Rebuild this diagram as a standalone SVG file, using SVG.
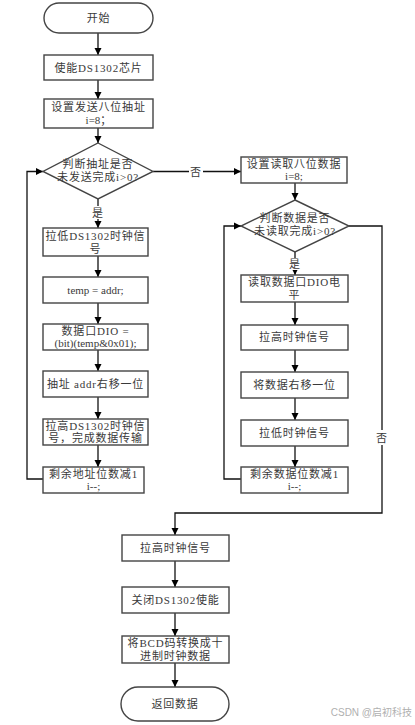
<svg xmlns="http://www.w3.org/2000/svg" width="415" height="725" viewBox="0 0 415 725">
<defs>
<marker id="ah" markerUnits="userSpaceOnUse" markerWidth="8" markerHeight="8" refX="7" refY="4" orient="auto">
<path d="M0,0.5 L7,4 L0,7.5 Z" fill="#000"/>
</marker>
<style>
.n{fill:#fff;stroke:#444;stroke-width:1.4}
.t{font-family:"Liberation Serif","Noto Sans CJK SC",serif;font-size:11px;fill:#3a3a3a;text-anchor:middle;letter-spacing:0.8px}
.l{letter-spacing:0}
.c{fill:none;stroke:#111;stroke-width:1.3}
.lb{fill:#fff;stroke:none}
</style>
</defs>
<rect width="415" height="725" fill="#fff"/>
<g id="connectors">
<path class="c" d="M98,33 V55" marker-end="url(#ah)"/>
<path class="c" d="M98,80 V99" marker-end="url(#ah)"/>
<path class="c" d="M98,128 V143" marker-end="url(#ah)"/>
<path class="c" d="M153,171.5 H241" marker-end="url(#ah)"/>
<path class="c" d="M98,199 V228" marker-end="url(#ah)"/>
<path class="c" d="M98,256 V277" marker-end="url(#ah)"/>
<path class="c" d="M98,303 V324" marker-end="url(#ah)"/>
<path class="c" d="M98,350 V371" marker-end="url(#ah)"/>
<path class="c" d="M98,397 V419" marker-end="url(#ah)"/>
<path class="c" d="M98,445 V467" marker-end="url(#ah)"/>
<path class="c" d="M43,479 H27 V171.5 H43" marker-end="url(#ah)"/>
<path class="c" d="M295,183 V200" marker-end="url(#ah)"/>
<path class="c" d="M295,252 V275" marker-end="url(#ah)"/>
<path class="c" d="M295,302 V325" marker-end="url(#ah)"/>
<path class="c" d="M295,350 V372" marker-end="url(#ah)"/>
<path class="c" d="M295,398 V420" marker-end="url(#ah)"/>
<path class="c" d="M295,446 V467" marker-end="url(#ah)"/>
<path class="c" d="M241,479 H224 V226 H241" marker-end="url(#ah)"/>
<path class="c" d="M349,226 H382 V513 H175 V535" marker-end="url(#ah)"/>
<path class="c" d="M175,561 V587" marker-end="url(#ah)"/>
<path class="c" d="M175,613 V636" marker-end="url(#ah)"/>
<path class="c" d="M175,663 V687" marker-end="url(#ah)"/>
<rect class="lb" x="189" y="164" width="14" height="14"/>
<text class="t" x="196" y="175.5">否</text>
<rect class="lb" x="91" y="206" width="14" height="13"/>
<text class="t" x="98" y="216.5">是</text>
<rect class="lb" x="288" y="258" width="14" height="12"/>
<text class="t" x="295" y="268">是</text>
<rect class="lb" x="375" y="430" width="14" height="15"/>
<text class="t" x="382" y="441.5">否</text>
</g>
<g id="start"><rect class="n" x="44" y="3" width="109" height="30" rx="15"/><text class="t" x="98.5" y="22">开始</text></g>
<g id="enable"><rect class="n" x="44" y="55" width="109" height="25"/><text class="t" x="98.5" y="71.5">使能DS1302芯片</text></g>
<g id="setaddr"><rect class="n" x="44" y="99" width="109" height="29"/><text class="t" x="98.5" y="111">设置发送八位抽址</text><text class="t l" x="98.5" y="124">i=8；</text></g>
<g id="dec1"><polygon class="n" points="98,143 153,171.5 98,199 43,171.5"/><text class="t" x="98" y="168">判断抽址是否</text><text class="t" x="98" y="181">未发送完成i&gt;0?</text></g>
<g id="clklow"><rect class="n" x="43" y="228" width="105" height="28"/><text class="t" x="95.5" y="240">拉低DS1302时钟信</text><text class="t" x="95.5" y="253">号</text></g>
<g id="temp"><rect class="n" x="43" y="277" width="105" height="26"/><text class="t l" x="95.5" y="294">temp = addr;</text></g>
<g id="dio"><rect class="n" x="43" y="324" width="105" height="26"/><text class="t" x="95.5" y="335">数据口DIO =</text><text class="t l" x="95.5" y="347">(bit)(temp&amp;0x01);</text></g>
<g id="shift1"><rect class="n" x="43" y="371" width="105" height="26"/><text class="t" x="95.5" y="388">抽址 addr右移一位</text></g>
<g id="clkhigh1"><rect class="n" x="43" y="419" width="105" height="26"/><text class="t" x="95.5" y="430">拉高DS1302时钟信</text><text class="t" x="95.5" y="442">号，完成数据传输</text></g>
<g id="dec_addr"><rect class="n" x="43" y="467" width="101" height="26"/><text class="t" x="93.5" y="478">剩余地址位数减1</text><text class="t l" x="93.5" y="490">i--;</text></g>
<g id="setread"><rect class="n" x="241" y="157" width="106" height="26"/><text class="t" x="294" y="168">设置读取八位数据</text><text class="t l" x="294" y="180">i=8;</text></g>
<g id="dec2"><polygon class="n" points="295,200 349,226 295,252 241,226"/><text class="t" x="295" y="222">判断数据是否</text><text class="t" x="295" y="235">未读取完成i&gt;0?</text></g>
<g id="readdio"><rect class="n" x="241" y="275" width="107" height="27"/><text class="t" x="294.5" y="286">读取数据口DIO电</text><text class="t" x="294.5" y="299">平</text></g>
<g id="clkhigh2"><rect class="n" x="241" y="325" width="107" height="25"/><text class="t" x="294.5" y="341">拉高时钟信号</text></g>
<g id="shift2"><rect class="n" x="241" y="372" width="107" height="26"/><text class="t" x="294.5" y="389">将数据右移一位</text></g>
<g id="clklow2"><rect class="n" x="241" y="420" width="107" height="26"/><text class="t" x="294.5" y="437">拉低时钟信号</text></g>
<g id="dec_data"><rect class="n" x="241" y="467" width="107" height="26"/><text class="t" x="294.5" y="478">剩余数据位数减1</text><text class="t l" x="294.5" y="490">i--;</text></g>
<g id="clkhigh3"><rect class="n" x="122" y="535" width="107" height="26"/><text class="t" x="175.5" y="552">拉高时钟信号</text></g>
<g id="disable"><rect class="n" x="122" y="587" width="107" height="26"/><text class="t" x="175.5" y="604">关闭DS1302使能</text></g>
<g id="bcd"><rect class="n" x="122" y="636" width="107" height="27"/><text class="t" x="175.5" y="647">将BCD码转换成十</text><text class="t" x="175.5" y="660">进制时钟数据</text></g>
<g id="end"><rect class="n" x="121" y="687" width="108" height="34" rx="17"/><text class="t" x="175" y="708">返回数据</text></g>
<text x="412" y="716" style="font-family:'Liberation Sans','Noto Sans CJK SC',sans-serif;font-size:10px;fill:#b0b0b0;text-anchor:end">CSDN @启初科技</text>
</svg>
